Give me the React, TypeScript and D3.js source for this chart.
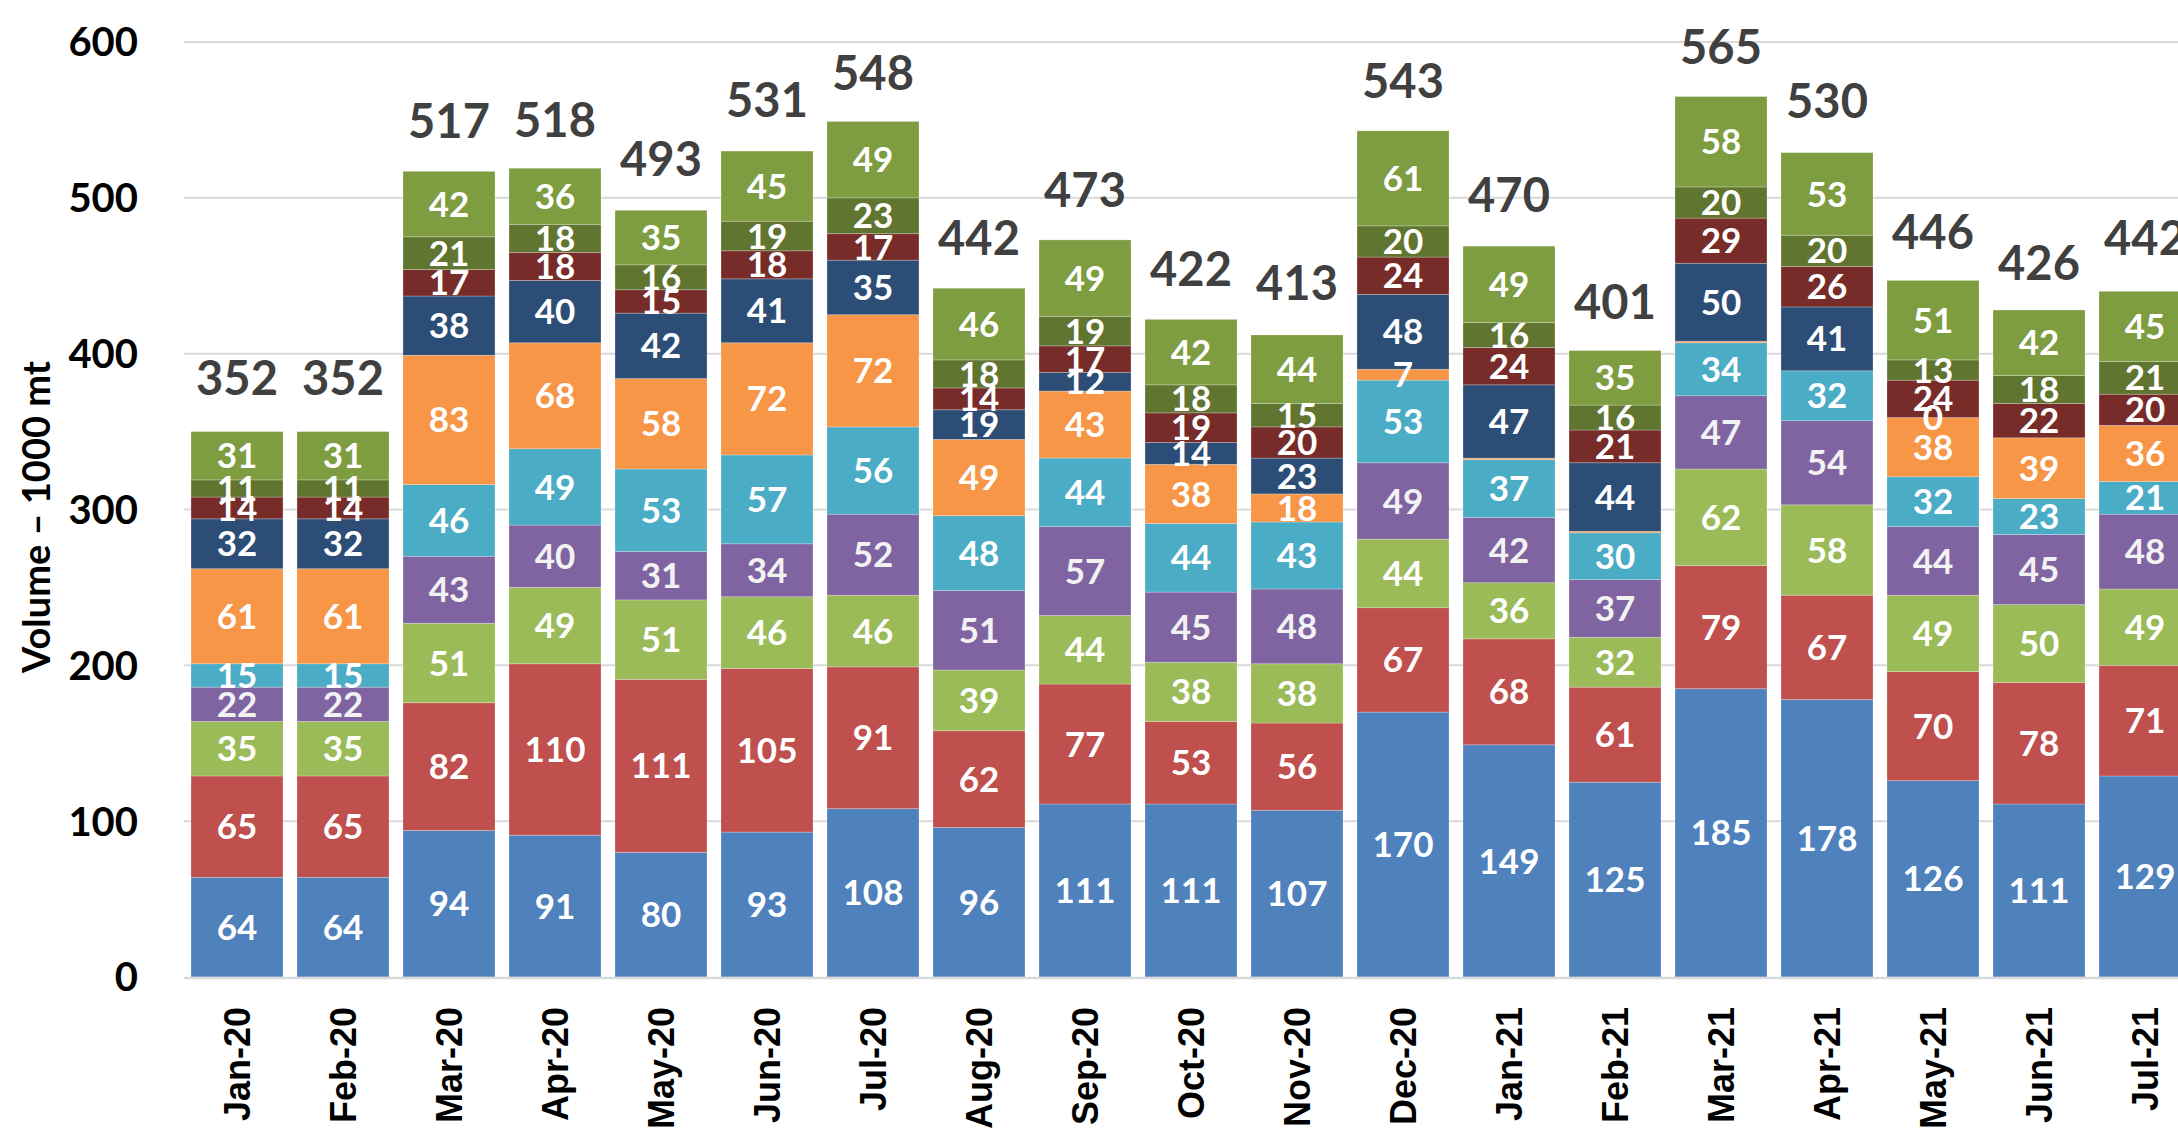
import React, { useEffect, useRef } from "react";
import * as d3 from "d3";

// months shown on the x axis
const months = [
  "Jan-20", "Feb-20", "Mar-20", "Apr-20", "May-20", "Jun-20", "Jul-20",
  "Aug-20", "Sep-20", "Oct-20", "Nov-20", "Dec-20", "Jan-21", "Feb-21",
  "Mar-21", "Apr-21", "May-21", "Jun-21", "Jul-21",
];

// totals printed above each bar
const totals = [352, 352, 517, 518, 493, 531, 548, 442, 473, 422, 413, 543, 470, 401, 565, 530, 446, 426, 442];

// stacked series, bottom to top
const series1 = [64, 64, 94, 91, 80, 93, 108, 96, 111, 111, 107, 170, 149, 125, 185, 178, 126, 111, 129];
const series2 = [65, 65, 82, 110, 111, 105, 91, 62, 77, 53, 56, 67, 68, 61, 79, 67, 70, 78, 71];
const series3 = [35, 35, 51, 49, 51, 46, 46, 39, 44, 38, 38, 44, 36, 32, 62, 58, 49, 50, 49];
const series4 = [22, 22, 43, 40, 31, 34, 52, 51, 57, 45, 48, 49, 42, 37, 47, 54, 44, 45, 48];
const series5 = [15, 15, 46, 49, 53, 57, 56, 48, 44, 44, 43, 53, 37, 30, 34, 32, 32, 23, 21];
const series6 = [61, 61, 83, 68, 58, 72, 72, 49, 43, 38, 18, 7, 1, 1, 1, 0, 38, 39, 36];
const series7 = [32, 32, 38, 40, 42, 41, 35, 19, 12, 14, 23, 48, 47, 44, 50, 41, 0, 0, 0];
const series8 = [14, 14, 17, 18, 15, 18, 17, 14, 17, 19, 20, 24, 24, 21, 29, 26, 24, 22, 20];
const series9 = [11, 11, 21, 18, 16, 19, 23, 18, 19, 18, 15, 20, 16, 16, 20, 20, 13, 18, 21];
const series10 = [31, 31, 42, 36, 35, 45, 49, 46, 49, 42, 44, 61, 49, 35, 58, 53, 51, 42, 45];

const seriesKeys = ["s1", "s2", "s3", "s4", "s5", "s6", "s7", "s8", "s9", "s10"];
const seriesValues = [series1, series2, series3, series4, series5, series6, series7, series8, series9, series10];
const seriesColors = [
  "#4F81BD", "#C0504D", "#9BBB59", "#8064A2", "#4BACC6",
  "#F79646", "#2C4D75", "#772C2A", "#5F7530", "#7E9C40",
];

// segments whose data label is not shown in the original
const hiddenLabels = ["Jan-21|s6", "Feb-21|s6", "Mar-21|s6", "Apr-21|s6", "Jun-21|s7", "Jul-21|s7"];

const yTicks = [0, 100, 200, 300, 400, 500, 600];

const W = 2178;
const H = 1137;

const StackedVolumeChart = () => {
  const ref = useRef<SVGSVGElement | null>(null);

  useEffect(() => {
    const svg = d3.select(ref.current);
    svg.selectAll("*").remove();

    const rows = months.map((m, i) => {
      const r: any = { month: m };
      seriesKeys.forEach((k, j) => (r[k] = seriesValues[j][i]));
      return r;
    });

    const x = d3.scaleBand()
      .domain(months)
      .range([184, 184 + 106 * months.length])
      .paddingInner(0.132)
      .paddingOuter(0.066);

    const y = d3.scaleLinear().domain([0, 600]).range([977, 42]);

    const color = d3.scaleOrdinal<string, string>().domain(seriesKeys).range(seriesColors);

    const stacked = d3.stack().keys(seriesKeys)(rows);

    // gridlines
    svg.append("g")
      .selectAll("line")
      .data(yTicks.filter(t => t > 0))
      .enter()
      .append("line")
      .attr("x1", 184)
      .attr("x2", W)
      .attr("y1", d => y(d))
      .attr("y2", d => y(d))
      .attr("stroke", "#D9D9D9")
      .attr("stroke-width", 2);

    // y tick labels
    svg.append("g")
      .selectAll("text")
      .data(yTicks)
      .enter()
      .append("text")
      .attr("x", 138)
      .attr("y", d => y(d))
      .attr("dy", "0.36em")
      .attr("text-anchor", "end")
      .attr("font-family", "Lato, 'Open Sans', sans-serif")
      .attr("font-weight", "bold")
      .attr("font-size", "40px")
      .attr("fill", "#000")
      .text(d => d);

    // bars
    const layers = svg.append("g")
      .selectAll("g")
      .data(stacked)
      .enter()
      .append("g")
      .attr("fill", d => color(d.key));

    layers.selectAll("rect")
      .data(d => d)
      .enter()
      .append("rect")
      .attr("x", (d: any) => x(d.data.month))
      .attr("width", x.bandwidth())
      .attr("y", d => y(d[1]))
      .attr("height", d => y(d[0]) - y(d[1]))
      .attr("stroke", "rgba(255,255,255,0.3)")
      .attr("stroke-width", 0.8);

    // axis line
    svg.append("line")
      .attr("x1", 184)
      .attr("x2", W)
      .attr("y1", y(0) + 1)
      .attr("y2", y(0) + 1)
      .attr("stroke", "#D9D9D9")
      .attr("stroke-width", 2.5);

    // segment labels
    const labels: any[] = [];
    stacked.forEach(layer => {
      layer.forEach((d: any) => {
        if (hiddenLabels.includes(d.data.month + "|" + layer.key)) return;
        labels.push({ month: d.data.month, key: layer.key, v: d[1] - d[0], mid: (d[0] + d[1]) / 2 });
      });
    });

    svg.append("g")
      .selectAll("text")
      .data(labels)
      .enter()
      .append("text")
      .attr("x", d => x(d.month)! + x.bandwidth() / 2)
      .attr("y", d => y(d.mid))
      .attr("dy", "0.36em")
      .attr("text-anchor", "middle")
      .attr("font-family", "Lato, 'Open Sans', sans-serif")
      .attr("font-weight", "bold")
      .attr("font-size", "35px")
      .attr("fill", d => (d.key === "s4" ? "#F2F2F2" : "#FFFFFF"))
      .text(d => d.v);

    // totals
    svg.append("g")
      .selectAll("text")
      .data(months)
      .enter()
      .append("text")
      .attr("x", d => x(d)! + x.bandwidth() / 2)
      .attr("y", (d, i) => y(totals[i]) - 33)
      .attr("text-anchor", "middle")
      .attr("font-family", "Lato, 'Open Sans', sans-serif")
      .attr("font-weight", "bold")
      .attr("font-size", "47px")
      .attr("fill", "#404040")
      .text((d, i) => totals[i]);

    // x labels
    svg.append("g")
      .selectAll("text")
      .data(months)
      .enter()
      .append("text")
      .attr("transform", d => `translate(${x(d)! + x.bandwidth() / 2}, 1007) rotate(-90)`)
      .attr("dy", "0.36em")
      .attr("text-anchor", "end")
      .attr("font-family", "'Liberation Sans', Arial, sans-serif")
      .attr("font-weight", "bold")
      .attr("font-size", "36px")
      .attr("fill", "#000")
      .text(d => d);

    // y axis title
    svg.append("text")
      .attr("transform", "translate(50, 517) rotate(-90)")
      .attr("text-anchor", "middle")
      .attr("font-family", "Lato, 'Open Sans', sans-serif")
      .attr("font-weight", "bold")
      .attr("font-size", "38px")
      .attr("fill", "#000")
      .text("Volume – 1000 mt");
  }, []);

  return (
    <svg
      ref={ref}
      width={W}
      height={H}
      style={{ position: "absolute", left: 0, top: 0, background: "#fff" }}
    />
  );
};

export default function App() {
  return <StackedVolumeChart />;
}
